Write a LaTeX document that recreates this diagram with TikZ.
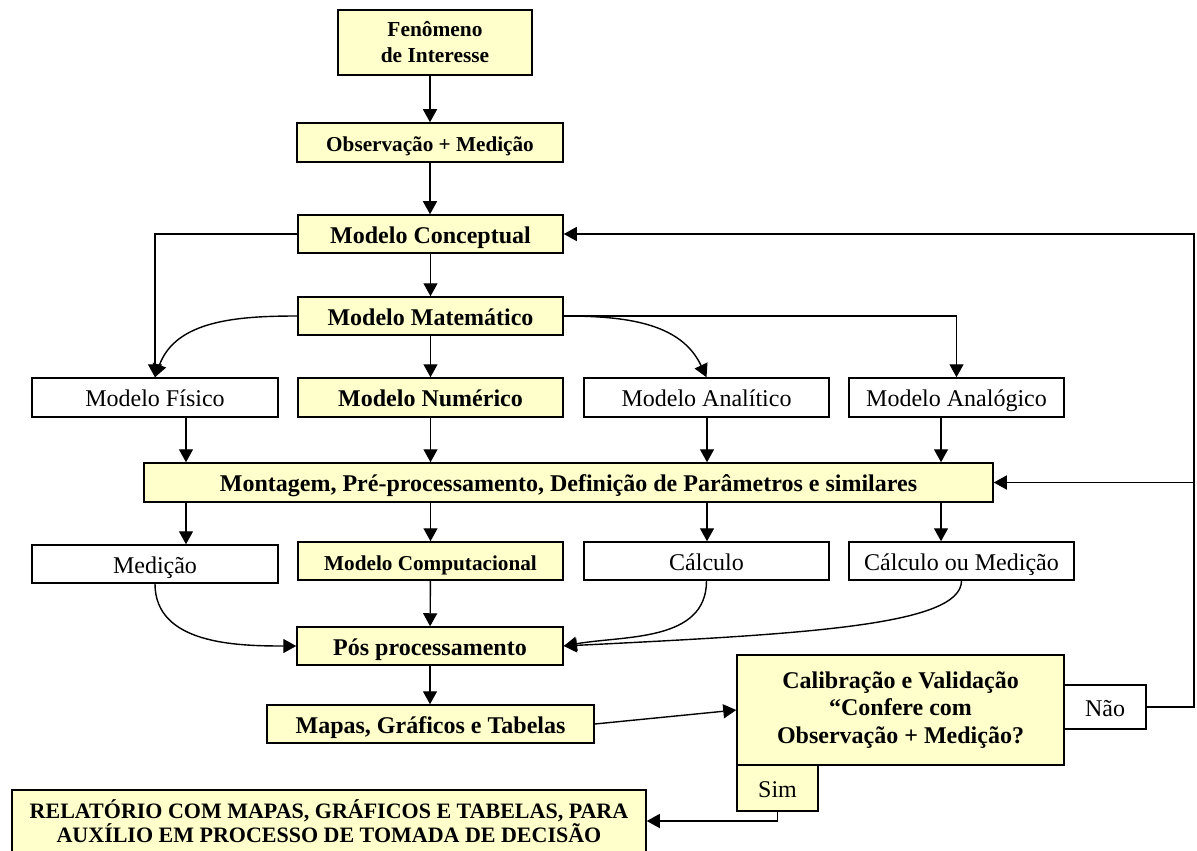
\documentclass[tikz,border=0pt]{standalone}
\usepackage{fontspec}
\setmainfont{Liberation Serif}
\usetikzlibrary{arrows.meta}
\definecolor{boxyellow}{RGB}{255,255,204}

\begin{document}
\begin{tikzpicture}[x=0.5pt, y=0.5pt,
  box/.style={draw, line width=0.75pt, fill=boxyellow, inner sep=0pt, align=center,
    text height=2.2ex, text depth=0.2ex, font=\bfseries\fontsize{12}{14}\selectfont},
  wbox/.style={box, fill=white, font=\fontsize{12}{14}\selectfont},
  multi/.style={text height=, text depth=},
  arr/.style={-{Triangle[length=6.5pt,width=7pt]}, line width=0.7pt}]
\useasboundingbox (0,0) rectangle (1197,-850);

\node[box, multi, minimum width=97pt, minimum height=32.5pt,
  font=\bfseries\fontsize{10.7}{13}\selectfont] (fen) at (435,-42.5) {Fenômeno\\de Interesse};
\node[box, minimum width=133pt, minimum height=19.5pt,
  font=\bfseries\fontsize{10.6}{13}\selectfont] (obs) at (430,-142.5) {Observação + Medição};
\node[box, minimum width=132.5pt, minimum height=19pt] (conc) at (430.5,-234) {Modelo Conceptual};
\node[box, minimum width=132.5pt, minimum height=19pt] (mat) at (430.5,-316) {Modelo Matemático};

\node[wbox, minimum width=123pt, minimum height=19.5pt] (fis) at (155,-397.5) {Modelo Físico};
\node[box, minimum width=132.5pt, minimum height=19.5pt] (num) at (430.5,-397.5) {Modelo Numérico};
\node[wbox, minimum width=122.5pt, minimum height=19.5pt] (anl) at (706.5,-397.5) {Modelo Analítico};
\node[wbox, minimum width=107.5pt, minimum height=19.5pt] (ang) at (956.5,-397.5) {Modelo Analógico};

\node[box, minimum width=424.5pt, minimum height=19.5pt] (mont) at (568.5,-482.5)
  {Montagem, Pré-processamento, Definição de Parâmetros e similares};

\node[wbox, minimum width=123pt, minimum height=19pt] (med) at (155,-564) {Medição};
\node[box, minimum width=132.5pt, minimum height=19pt,
  font=\bfseries\fontsize{10.6}{13}\selectfont] (comp) at (430.5,-561) {Modelo Computacional};
\node[wbox, minimum width=122.5pt, minimum height=19pt] (calc) at (706.5,-561) {Cálculo};
\node[wbox, minimum width=112.5pt, minimum height=19pt] (calcm) at (961.5,-561) {Cálculo ou Medição};

\node[box, minimum width=133pt, minimum height=19pt] (pos) at (430,-646) {Pós processamento};
\node[box, minimum width=163.5pt, minimum height=19pt] (map) at (430.5,-724) {Mapas, Gráficos e Tabelas};
\node[box, multi, minimum width=317pt, minimum height=31pt,
  font=\bfseries\fontsize{11}{12}\selectfont] (rel) at (329,-821)
  {RELATÓRIO COM MAPAS, GRÁFICOS E TABELAS, PARA\\AUXÍLIO EM PROCESSO DE TOMADA DE DECISÃO};

\node[box, multi, minimum width=163.5pt, minimum height=55pt,
  font=\bfseries\fontsize{12}{13.75}\selectfont] (cal) at (900.5,-710)
  {Calibração e Validação\\“Confere com\\Observação + Medição?};
\node[wbox, minimum width=41pt, minimum height=22pt] (nao) at (1105,-707) {Não};
\node[box, minimum width=40.5pt, minimum height=23pt,
  font=\fontsize{12}{14}\selectfont] (sim) at (777.5,-788) {Sim};

\coordinate (xa) at (186,0);
\coordinate (xb) at (430.5,0);
\coordinate (xc) at (707,0);
\coordinate (xd) at (941,0);
\coordinate (fb) at (1194,0);

\draw[arr] (fen.south -| obs.north) -- (obs.north);
\draw[arr] (obs.south) -- (obs.south |- conc.north);
\draw[arr] (conc) -- (mat);
\draw[arr] (mat) -- (num);
\draw[arr] (conc.west) -| (fis.north);
\draw[arr] (mat.west) to[out=180, in=70] (fis.north);
\draw[arr] (mat.east) to[out=0, in=115] (anl.north);
\draw[arr] (mat.east) -| (ang.north);
\foreach \c/\a/\b in {xa/fis/med, xb/num/comp, xc/anl/calc, xd/ang/calcm} {
  \draw[arr] (\a.south -| \c) -- (mont.north -| \c);
  \draw[arr] (mont.south -| \c) -- (\b.north -| \c);
}
\draw[arr] (med.south) to[out=-90, in=180] (pos.west);
\draw[arr] (comp) -- (pos);
\draw[arr] (calc.south) to[out=-90, in=10] (pos.east);
\draw[arr] (calcm.south) .. controls +(0,-45) and +(240,12) .. (pos.east);
\draw[arr] (pos.south) -- (pos.south |- map.north);
\draw[arr] (map.east) -- (cal.west);
\draw[arr] (nao.east) -| (fb |- conc.east) -- (conc.east);
\draw[arr] (fb |- mont.east) -- (mont.east);
\draw[arr] (sim.south) |- (rel.east);
\end{tikzpicture}
\end{document}
